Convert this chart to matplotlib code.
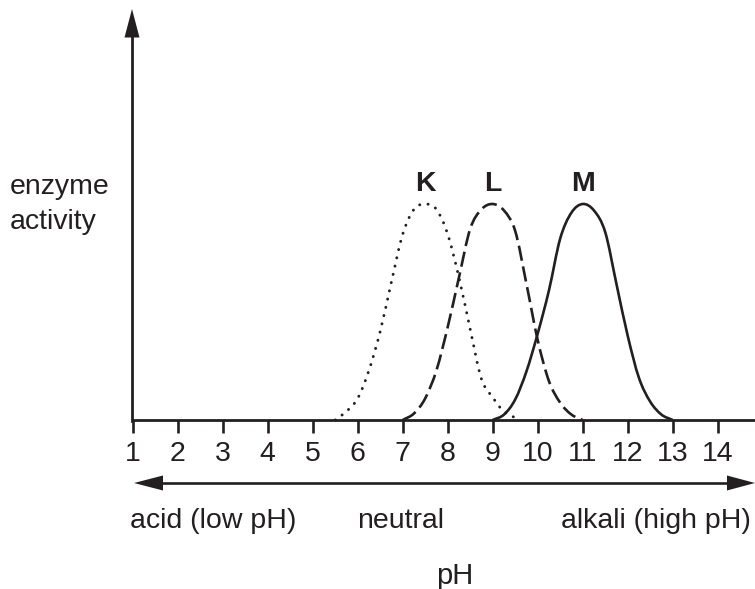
import matplotlib
matplotlib.use("Agg")
import matplotlib.pyplot as plt
import numpy as np
from matplotlib.patches import Polygon, PathPatch
from matplotlib.path import Path
from matplotlib.lines import Line2D

plt.rcParams['font.family'] = ['Liberation Sans', 'DejaVu Sans']

# ---- data (activity as fraction of peak) ----
ph_K = [5.5, 5.75, 6.0, 6.25, 6.5, 6.75, 7.0, 7.25, 7.5, 7.75, 8.0, 8.25, 8.5, 8.75, 9.0, 9.25, 9.6]
act_K = [0.0, 0.04, 0.10, 0.23, 0.41, 0.64, 0.86, 0.975, 1.0, 0.975, 0.86, 0.66, 0.42, 0.19, 0.105, 0.04, 0.0]

ph_L = [7.0, 7.25, 7.5, 7.75, 8.0, 8.25, 8.5, 8.75, 9.0, 9.25, 9.5, 9.75, 10.0, 10.25, 10.5, 10.75, 11.0]
act_L = [0.0, 0.03, 0.10, 0.23, 0.43, 0.66, 0.885, 0.975, 1.0, 0.97, 0.875, 0.63, 0.37, 0.18, 0.08, 0.025, 0.0]

ph_M = [9.0, 9.25, 9.5, 9.75, 10.0, 10.25, 10.5, 10.75, 11.0, 11.25, 11.5, 11.75, 12.0, 12.25, 12.5, 12.75, 13.0]
act_M = [0.0, 0.025, 0.095, 0.225, 0.40, 0.60, 0.84, 0.96, 1.0, 0.97, 0.87, 0.63, 0.39, 0.195, 0.085, 0.025, 0.0]

curve_labels = ['K', 'L', 'M']
tick_values = list(range(1, 15))
tick_labels = [str(v) for v in tick_values]

W, H = 755, 589
fig = plt.figure(figsize=(W / 100, H / 100), dpi=100)

def fx(x):
    return x / W

def fy(y):
    return 1 - y / H

x_left_px, x_right_px = 132.7, 755.0
base_px, top_px = 420.0, 9.0
px_per_ph = 45.0
px_per_act = 216.0

ax = fig.add_axes([fx(x_left_px), fy(base_px), fx(x_right_px) - fx(x_left_px), fy(top_px) - fy(base_px)])
ax.set_xlim(1, 1 + (x_right_px - x_left_px) / px_per_ph)
ax.set_ylim(0, (base_px - top_px) / px_per_act)
for s in ['top', 'right', 'left']:
    ax.spines[s].set_visible(False)
col = '#231f20'
ax.spines['bottom'].set_linewidth(2.0)
ax.spines['bottom'].set_color(col)
ax.set_yticks([])
ax.set_xticks(tick_values)
ax.set_xticklabels(tick_labels, fontsize=20.5, color=col)
ax.tick_params(axis='x', direction='out', length=9.5, width=1.9, pad=5.5, color=col)
ax.patch.set_visible(False)


def smooth_path(xs, ys):
    """Catmull-Rom through the read points, drawn as cubic Bezier segments."""
    p = np.column_stack([xs, ys]).astype(float)
    ext = np.vstack([p[0] - (p[1] - p[0]), p, p[-1] + (p[-1] - p[-2])])
    verts = [tuple(p[0])]
    codes = [Path.MOVETO]
    for i in range(1, len(ext) - 2):
        p0, p1, p2, p3 = ext[i - 1], ext[i], ext[i + 1], ext[i + 2]
        c1 = p1 + (p2 - p0) / 6.0
        c2 = p2 - (p3 - p1) / 6.0
        c1[1] = max(c1[1], 0.0)
        c2[1] = max(c2[1], 0.0)
        verts += [tuple(c1), tuple(c2), tuple(p2)]
        codes += [Path.CURVE4] * 3
    return Path(verts, codes)


lw = 1.9
styles = [(0, (0.05, 2.85)), (0, (5.8, 2.2)), '-']
for xs, ys, ls in zip([ph_K, ph_L, ph_M], [act_K, act_L, act_M], styles):
    patch = PathPatch(smooth_path(xs, ys), facecolor='none', edgecolor=col,
                      lw=(2.1 if ls == styles[0] else lw),
                      linestyle=ls, transform=ax.transData, clip_on=False)
    if ls == styles[0]:
        patch.set_capstyle('round')
    ax.add_patch(patch)

# curve labels above peaks
for lab, xs, ys in zip(curve_labels, [ph_K, ph_L, ph_M], [act_K, act_L, act_M]):
    i = ys.index(max(ys))
    ax.text(xs[i], max(ys) + 0.062, lab, ha='center', va='baseline', fontsize=20.5,
            fontweight='bold', color=col)

# y axis with arrow
fig.add_artist(Line2D([fx(132.0), fx(132.0)], [fy(421), fy(30)], transform=fig.transFigure,
                      color=col, lw=2.0))
fig.add_artist(Polygon([(fx(132.0), fy(9)), (fx(124.5), fy(37.5)), (fx(139.5), fy(37.5))],
                       closed=True, transform=fig.transFigure, color=col, lw=0))

# double-headed pH arrow
ya = 483
fig.add_artist(Line2D([fx(155), fx(735)], [fy(ya), fy(ya)], transform=fig.transFigure,
                      color=col, lw=1.9))
fig.add_artist(Polygon([(fx(134), fy(ya)), (fx(163), fy(ya - 7.5)), (fx(163), fy(ya + 7.5))],
                       closed=True, transform=fig.transFigure, color=col, lw=0))
fig.add_artist(Polygon([(fx(755), fy(ya)), (fx(727), fy(ya - 7.5)), (fx(727), fy(ya + 7.5))],
                       closed=True, transform=fig.transFigure, color=col, lw=0))

fs = 20.5
fig.text(fx(10), fy(187), 'enzyme', ha='left', va='center', fontsize=fs, color=col)
fig.text(fx(10), fy(222), 'activity', ha='left', va='center', fontsize=fs, color=col)
fig.text(fx(130), fy(528), 'acid (low pH)', ha='left', va='baseline', fontsize=fs, color=col)
fig.text(fx(401), fy(528), 'neutral', ha='center', va='baseline', fontsize=fs, color=col)
fig.text(fx(751), fy(528), 'alkali (high pH)', ha='right', va='baseline', fontsize=fs, color=col)
fig.text(fx(455), fy(584), 'pH', ha='center', va='baseline', fontsize=21, color=col)

fig.savefig('out.png', dpi=100)
